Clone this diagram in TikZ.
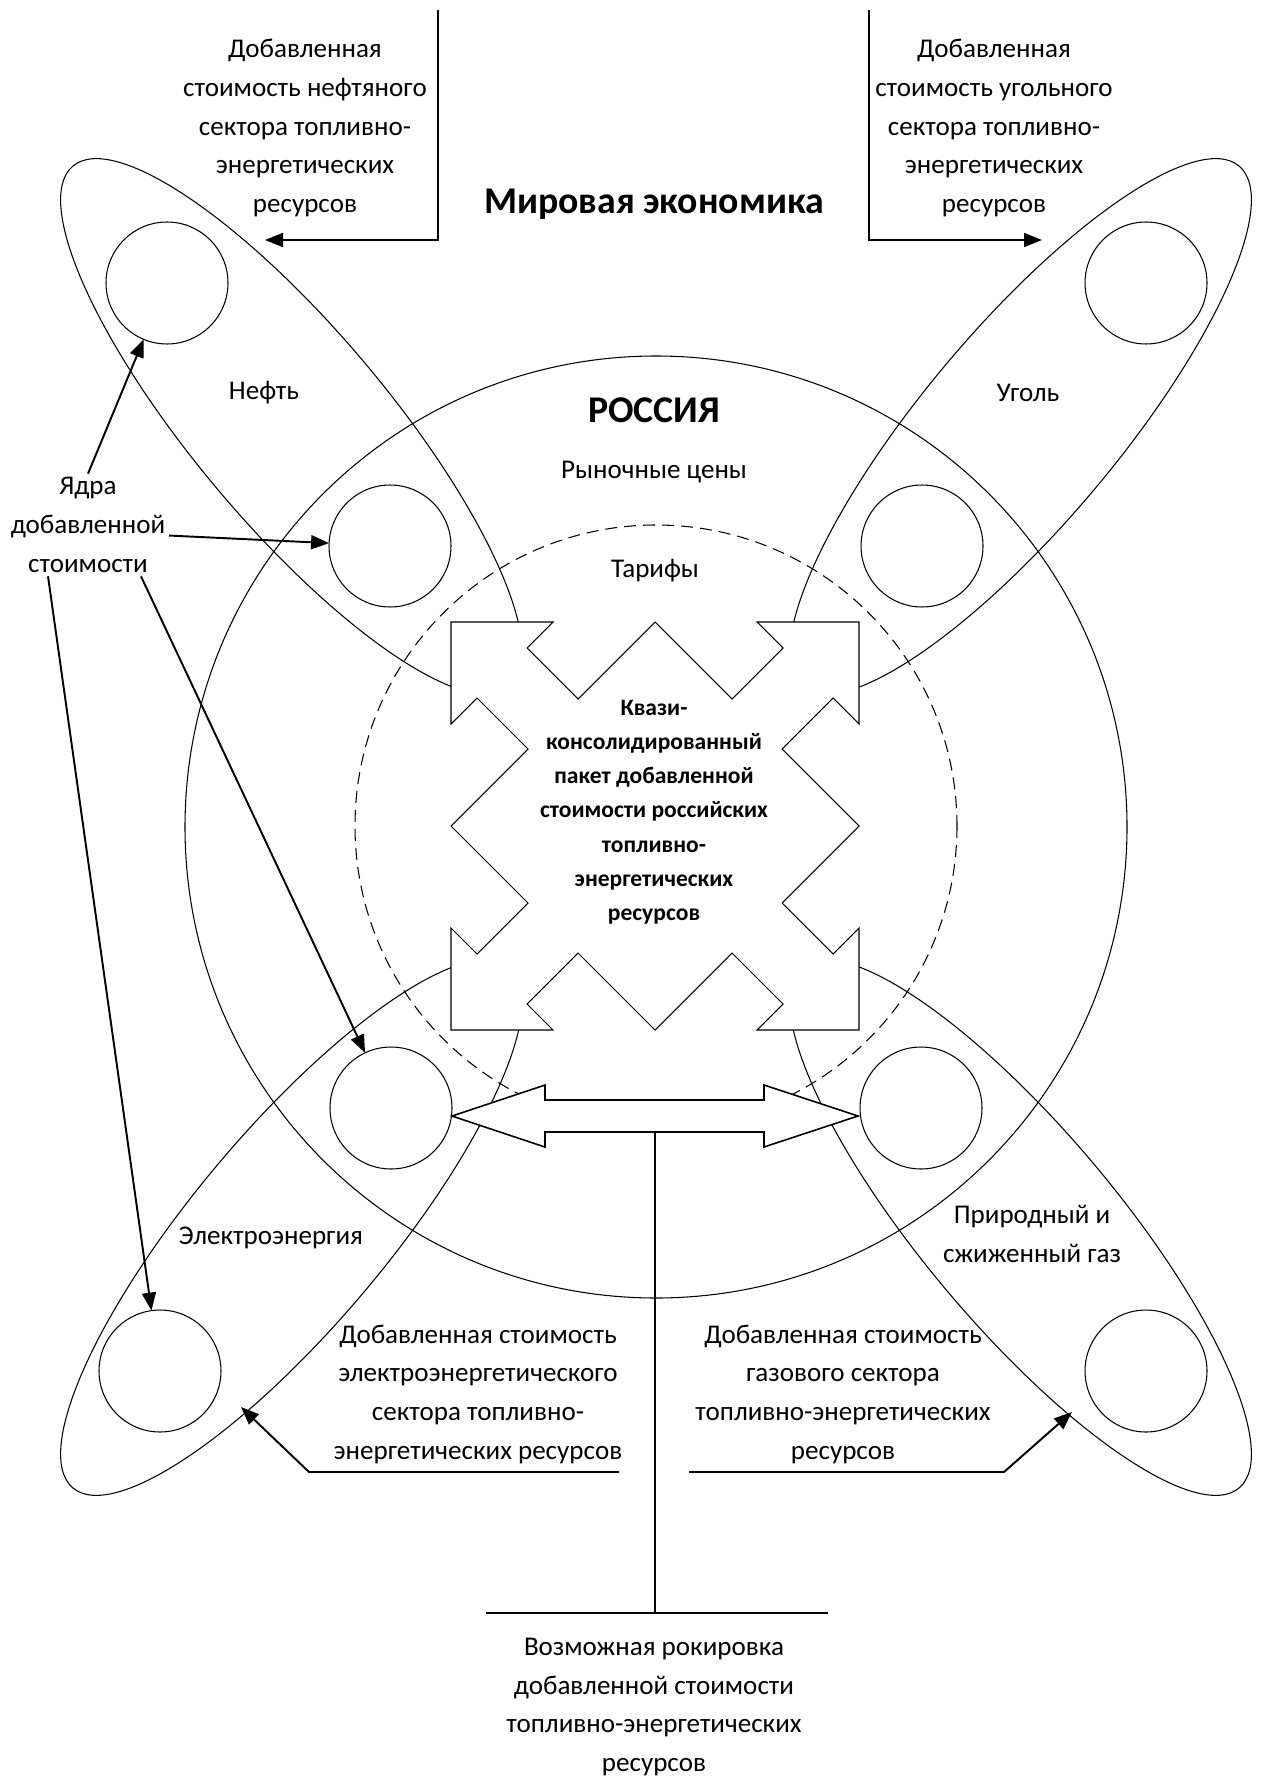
\documentclass[tikz,border=0pt]{standalone}
\usepackage{fontspec}
\setmainfont{Carlito}
\usetikzlibrary{arrows.meta}

\tikzset{
  txt/.style={align=center, font=\fontsize{15.4}{22}\selectfont, inner sep=2pt},
  title/.style={font=\fontsize{21.5}{25}\selectfont\bfseries},
  pack/.style={align=center, font=\fontsize{13.4}{19.5}\selectfont\bfseries},
  core/.style={draw, circle, line width=0.6pt, minimum size=2.44cm, inner sep=0pt, outer sep=0pt},
  thin/.style={line width=0.6pt},
  lead/.style={line width=1.1pt},
  arr/.style={line width=1.1pt, -{Triangle[length=0.36cm,width=0.28cm]}}
}

\begin{document}
\begin{tikzpicture}[x=0.02cm, y=-0.02cm]
  \useasboundingbox (0,0) rectangle (1260,1780);

	% Russia and tariffs
	\draw[thin] (656,827) circle [radius=471];
	\draw[thin, dash pattern=on 0.24cm off 0.14cm] (656,826) circle [radius=301];

	% Sectors
	\draw[thin, rotate around={-50:(291.5,426.5)}] (291.5,426.5) ellipse [x radius=340, y radius=97];
	\draw[thin, rotate around={50:(1020.5,426.5)}] (1020.5,426.5) ellipse [x radius=340, y radius=97];
	\draw[thin, rotate around={50:(291.5,1227.5)}] (291.5,1227.5) ellipse [x radius=340, y radius=97];
	\draw[thin, rotate around={-50:(1020.5,1227.5)}] (1020.5,1227.5) ellipse [x radius=340, y radius=97];

	% Cores
	\node[core] (oilw) at (167,283) {};
	\node[core] (coalw) at (1146,283) {};
	\node[core] (oilr) at (390,546) {};
	\node[core] (coalr) at (922,546) {};
	\node[core] (elecr) at (391,1108) {};
	\node[core] (gasr) at (921,1108) {};
	\node[core] (elecw) at (160,1371) {};
	\node[core] (gasw) at (1146,1371) {};

	% Package
	\draw[thin, fill=white, shift={(655,826)}] (-204,-204) -- (-102,-204) -- (-128,-178) -- (-77,-127) -- (0,-204) -- (77,-127) -- (128,-178) -- (102,-204) -- (204,-204)
	  -- (204,-102) -- (178,-128) -- (127,-77) -- (204,0) -- (127,77) -- (178,128) -- (204,102) -- (204,204)
	  -- (102,204) -- (128,178) -- (77,127) -- (0,204) -- (-77,127) -- (-128,178) -- (-102,204) -- (-204,204)
	  -- (-204,102) -- (-178,128) -- (-127,77) -- (-204,0) -- (-127,-77) -- (-178,-128) -- (-204,-102) -- cycle;

	% Swap
	\draw[line width=0.9pt, fill=white] (452,1116) -- (545,1085) -- (545,1100) -- (764,1100) -- (764,1085) -- (858,1116) -- (764,1147) -- (764,1132) -- (545,1132) -- (545,1147) -- cycle;

	% Texts
	\node[title] (world) at (654,204) {Мировая экономика};
	\node[title] (russia) at (654,410) {РОССИЯ};
	\node[txt] (prices) at (654,472) {Рыночные цены};
	\node[txt] (tariffs) at (655,571) {Тарифы};
	\node[pack] (quasi) at (654,812) {Квази-\\консолидированный\\пакет добавленной\\стоимости российских\\топливно-\\энергетических\\ресурсов};
	\node[txt] (oil) at (264,393) {Нефть};
	\node[txt] (coal) at (1028,393) {Уголь};
	\node[txt] (elec) at (271,1238) {Электроэнергия};
	\node[txt] (gas) at (1032,1234) {Природный и\\сжиженный газ};
	\node[txt] (valoil) at (305,128) {Добавленная\\стоимость нефтяного\\сектора топливно-\\энергетических\\ресурсов};
	\node[txt] (valcoal) at (994,128) {Добавленная\\стоимость угольного\\сектора топливно-\\энергетических\\ресурсов};
	\node[txt] (valelec) at (478,1394) {Добавленная стоимость\\электроэнергетического\\сектора топливно-\\энергетических ресурсов};
	\node[txt] (valgas) at (843,1394) {Добавленная стоимость\\газового сектора\\топливно-энергетических\\ресурсов};
	\node[txt] (yadra) at (88,525) {Ядра\\добавленной\\стоимости};
	\node[txt] (swap) at (654,1707) {Возможная рокировка\\добавленной стоимости\\топливно-энергетических\\ресурсов};

	% Value leads
	\coordinate (vo1) at (438,10);
	\coordinate (vo2) at (265,240);
	\coordinate (vc1) at (869,10);
	\coordinate (vc2) at (1042,240);
	\draw[arr] (vo1) |- (vo2);
	\draw[arr] (vc1) |- (vc2);

	\coordinate (ve1) at (619,1472);
	\coordinate (ve2) at (309,1472);
	\coordinate (ve3) at (241,1407);
	\coordinate (vg1) at (689,1472);
	\coordinate (vg2) at (1004,1472);
	\coordinate (vg3) at (1072,1412);
	\draw[arr] (ve1) -- (ve2) -- (ve3);
	\draw[arr] (vg1) -- (vg2) -- (vg3);

	% Swap lead
	\coordinate (swaptop) at (655,1132);
	\coordinate (swapbot) at (655,1613);
	\coordinate (swapl) at (486,1613);
	\coordinate (swapr) at (828,1613);
	\draw[lead] (swaptop) -- (swapbot);
	\draw[lead] (swapl) -- (swapr);

	% Cores pointers
	\draw[arr] (yadra.north) -- (oilw);
	\draw[arr] ([yshift=-6pt]yadra.east) -- (oilr);
	\draw[arr] ([xshift=-0.8cm]yadra.south) -- (elecw);
	\draw[arr] ([xshift=1.06cm]yadra.south) -- (elecr);
\end{tikzpicture}
\end{document}
